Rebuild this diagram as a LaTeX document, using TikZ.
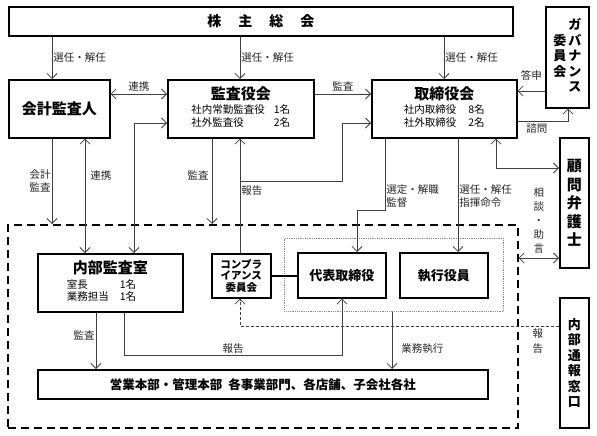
\documentclass[tikz,border=0pt]{standalone}
\usepackage{fontspec}
\setmainfont{Noto Sans CJK JP}
\usepackage{tikz}
\usetikzlibrary{arrows.meta,positioning}
\newcommand{\boxtitle}[1]{{\bfseries\fontsize{15}{18}\selectfont #1}}
\tikzset{
  orgbox/.style = {draw=black, line width=1.6pt, fill=white, inner sep=0pt,
    anchor=north west, align=center, font=\fontsize{10.5}{13.5}\selectfont},% 組織の箱
  boldbox/.style = {orgbox, font=\bfseries\fontsize{13}{15}\selectfont},% 名前だけの箱
  lbl/.style = {inner sep=1pt, font=\fontsize{10.5}{13}\selectfont, text=black!85},
  vlbl/.style = {lbl, align=center, font=\fontsize{10.5}{14}\selectfont},% 縦書き
  barb/.tip = {Straight Barb[length=5pt,width=10pt]},
  arr/.style = {draw=black!75, line width=0.8pt, -barb},
  arr2/.style = {arr, barb-barb}
}

\begin{document}
\begin{tikzpicture}[x=1pt,y=-1pt]
    \useasboundingbox (0,0) rectangle (597,436);
    \node [draw=black, dash pattern=on 8pt off 5pt, line width=1.5pt, anchor=north west,
      minimum width=510pt, minimum height=203pt](group) at (7,224) {};
    \node [draw=black!45, densely dotted, line width=0.8pt, anchor=north west,
      minimum width=219pt, minimum height=73pt](dotbox) at (284,238) {};

    \node [boldbox, minimum width=504pt, minimum height=29pt,
      font=\bfseries\fontsize{14}{16}\selectfont](kabu) at (8,6)
      {株\hspace{17pt}主\hspace{17pt}総\hspace{17pt}会};
    \node [boldbox, minimum width=43pt, minimum height=101pt](gov) at (545,6)
      {\begin{tabular}{@{}c@{\hspace{2pt}}c@{}} & ガ\\ 委 & バ\\ 員 & ナ\\ 会 & ン\\ & ス\end{tabular}};
    \node [boldbox, minimum width=101pt, minimum height=58pt,
      font=\bfseries\fontsize{15}{18}\selectfont](kaikei) at (8,79) {会計監査人};
    \node [orgbox, minimum width=146pt, minimum height=58pt](kansa) at (167,79)
      {\begin{tabular}{@{}l@{\hspace{9pt}}l@{}}\multicolumn{2}{c}{\boxtitle{監査役会}}\\
        社内常勤監査役 & 1名\\ 社外監査役 & 2名\end{tabular}};
    \node [orgbox, minimum width=145pt, minimum height=58pt](tori) at (371,79)
      {\begin{tabular}{@{}l@{\hspace{12pt}}l@{}}\multicolumn{2}{c}{\boxtitle{取締役会}}\\
        社内取締役 & 8名\\ 社外取締役 & 2名\end{tabular}};
    \node [boldbox, minimum width=29pt, minimum height=130pt,
      font=\bfseries\fontsize{15}{18.5}\selectfont](komon) at (559,137) {顧\\問\\弁\\護\\士};
    \node [orgbox, minimum width=145pt, minimum height=58pt,
      font=\fontsize{10.5}{12.5}\selectfont](naibu) at (37,253)
      {\begin{tabular}{@{}l@{\hspace{11pt}}l@{}}\multicolumn{2}{c}{\boxtitle{内部監査室}}\\[2pt]
        室長 & 1名\\ 業務担当 & 1名\end{tabular}};
    \node [boldbox, minimum width=59pt, minimum height=44pt,
      font=\bfseries\fontsize{10.5}{11.5}\selectfont](comp) at (211,253) {コンプラ\\イアンス\\委員会};
    \node [boldbox, minimum width=88pt, minimum height=45pt](daihyo) at (297,252) {代表取締役};
    \node [boldbox, minimum width=88pt, minimum height=45pt](shikko) at (399,252) {執行役員};
    \node [boldbox, minimum width=29pt, minimum height=130pt,
      font=\bfseries\fontsize{13}{15.5}\selectfont](tsuho) at (559,297) {内\\部\\通\\報\\窓\\口};
    \node [boldbox, minimum width=450pt, minimum height=29pt,
      font=\bfseries\fontsize{12.5}{15}\selectfont](eigyo) at (37,369)
      {営業本部・管理本部\hspace{6pt}各事業部門、各店舗、子会社各社};

    \coordinate (cA) at (52,0);
    \coordinate (cB) at (85,0);
    \coordinate (cM) at (96,0);
    \coordinate (cN) at (124,0);
    \coordinate (cC) at (134,0);
    \coordinate (cD) at (212,0);
    \coordinate (cE) at (240,0);
    \coordinate (cF) at (342,0);
    \coordinate (cG) at (357,0);
    \coordinate (cH) at (385,0);
    \coordinate (cO) at (392,0);
    \coordinate (cI) at (444,0);
    \coordinate (cJ) at (458,0);
    \coordinate (cK) at (496,0);
    \coordinate (cL) at (568,0);
    \coordinate (rC) at (0,91);
    \coordinate (rA) at (0,94);
    \coordinate (rD) at (0,121);
    \coordinate (rB) at (0,123);
    \coordinate (rE) at (0,168);
    \coordinate (rF) at (0,181);
    \coordinate (rG) at (0,210);
    \coordinate (rH) at (0,258);
    \coordinate (rJ) at (0,326);
    \coordinate (rK) at (0,355);

    \draw[arr] (kabu.south -| cA) -- (kaikei.north -| cA) node[lbl, midway, right] {選任・解任};
    \draw[arr] (kabu.south -| cE) -- (kansa.north -| cE) node[lbl, midway, right] {選任・解任};
    \draw[arr] (kabu.south -| cI) -- (tori.north -| cI) node[lbl, midway, right] {選任・解任};
    \draw[arr2] (kaikei.east |- rA) -- (kansa.west |- rA) node[lbl, midway, above=1pt] {連携};
    \draw[arr] (kansa.east |- rA) -- (tori.west |- rA) node[lbl, midway, above=1pt] {監査};
    \draw[arr] (gov.west |- rC) -- (tori.east |- rC) node[lbl, midway, above=9pt] {答申};
    \draw[arr] (tori.east |- rD) -| (gov.south -| cL) node[lbl, pos=0.19, below=1pt] {諮問};
    \draw[arr2] (naibu.north -| cC) |- (kansa.west |- rB);
    \draw[arr] (kaikei.south -| cA) -- (group.north -| cA) node[lbl, midway, left, align=center] {会計\\監査};
    \draw[arr2] (kaikei.south -| cB) -- (naibu.north -| cB) node[lbl, pos=0.32, right=4pt] {連携};
    \draw[arr] (kansa.south -| cD) -- (group.north -| cD) node[lbl, pos=0.43, left=2pt] {監査};
    \draw[arr] (comp.north -| cE) -- (kansa.south -| cE) node[lbl, pos=0.55, right] {報告};
    \draw[arr] (cE |- rF) -| (cF |- rB) -- (tori.west |- rB);
    \draw[arr] (tori.south -| cH) -- node[lbl, pos=0.8, right, align=left] {選定・解職\\監督} (cH |- rG)
      -- (cG |- rG) -- (daihyo.north -| cG);
    \draw[arr] (tori.south -| cJ) -- (shikko.north -| cJ) node[lbl, pos=0.51, right, align=left] {選任・解任\\指揮命令};
    \draw[arr2] (tori.south -| cK) |- (komon.west |- rE);
    \draw[arr2] (group.east |- rH) -- (komon.west |- rH) node[vlbl, midway, above=3pt] {相\\談\\・\\助\\言};
    \draw[line width=1.6pt] (comp.east) -- (comp.east -| daihyo.west);
    \draw[arr] (naibu.south -| cM) -- (eigyo.north -| cM) node[lbl, pos=0.4, left] {監査};
    \draw[arr] (naibu.south -| cN) |- node[lbl, pos=0.75, above] {報告} (cF |- rK) -- (daihyo.south -| cF);
    \draw[arr] (dotbox.south -| cO) -- (eigyo.north -| cO) node[lbl, pos=0.65, right=8pt] {業務執行};
    \draw[arr, dash pattern=on 3pt off 2pt] (tsuho.west |- rJ) -| (comp.south -| cE)
      node[vlbl, pos=0.033, below=1pt, font=\fontsize{10.5}{15}\selectfont] {報\\告};
\end{tikzpicture}
\end{document}
